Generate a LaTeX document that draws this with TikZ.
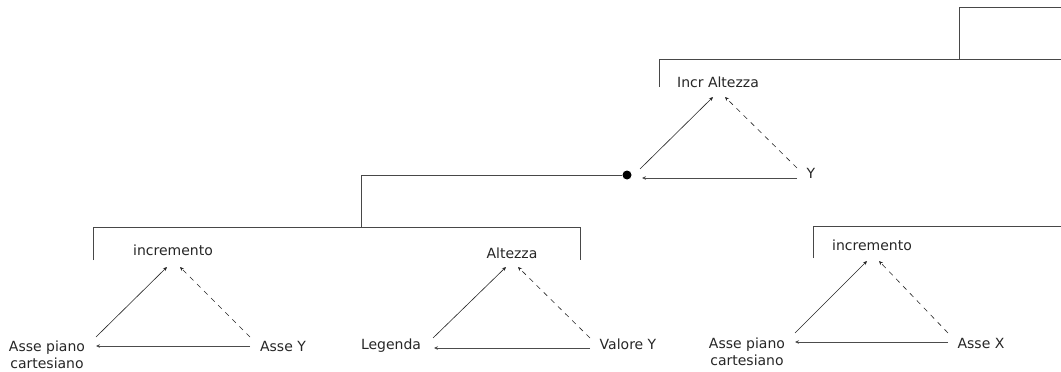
\documentclass[tikz,border=0pt]{standalone}
\usepackage{fontspec}
\setmainfont{DejaVu Sans}
\usetikzlibrary{arrows.meta}
\begin{document}
\begin{tikzpicture}[x=1pt,y=-1pt,
  lbl/.style={anchor=base,inner sep=0pt,text=black!85,align=center,
    font=\fontsize{14}{17}\selectfont},
  frame/.style={draw=black!72,line width=0.9pt},
  rel/.style={draw=black!85,line width=0.6pt,-{Stealth[length=4pt,width=3.6pt]}},
  relh/.style={draw=black!70,line width=0.9pt,-{Stealth[length=4pt,width=3.6pt]}},
  reld/.style={rel,dash pattern=on 5pt off 5pt},
  joint/.style={circle,fill=black,inner sep=0pt,minimum size=9pt}]
\useasboundingbox (0,0) rectangle (1061,372);

% ---- upper level ----
\draw[frame] (959,7) -- (1061,7);
\draw[frame] (959,7) -- (959,59);
\draw[frame] (659,87) -- (659,59) -- (1061,59);

\node[lbl] (incrAlt) at (718,87) {Incr Altezza};
\node[lbl] (y) at (811,178) {Y};
\node[joint] (dot) at (627,175) {};
\coordinate (incrAltA) at (713,97);
\coordinate (incrAltB) at (725,97);
\coordinate (dotA) at (640,169);
\coordinate (dotB) at (642,178);
\coordinate (yA) at (797,168);
\coordinate (yB) at (797,178);
\draw[rel]  (dotA) -- (incrAltA);
\draw[reld] (yA) -- (incrAltB);
\draw[relh] (yB) -- (dotB);

% branch from the joint down to the lower group
\coordinate (branch) at (361,227);
\draw[frame] (dot) -- (361,175) -- (branch);
\draw[frame] (93,260) -- (93,227) -- (580,227) -- (580,260);

% ---- lower left: incremento ----
% (the base anchor of a two-line label sits on its last line)
\node[lbl] (incL) at (173,255) {incremento};
\node[lbl] (apcL) at (47,368) {Asse piano\\cartesiano};
\node[lbl] (asseY) at (283,351) {Asse Y};
\coordinate (incLA) at (167,267);
\coordinate (incLB) at (180,267);
\coordinate (apcLA) at (96,337);
\coordinate (apcLB) at (96,346);
\coordinate (asseYA) at (250,337);
\coordinate (asseYB) at (250,346);
\draw[rel]  (apcLA) -- (incLA);
\draw[reld] (asseYA) -- (incLB);
\draw[relh] (asseYB) -- (apcLB);

% ---- lower middle: Altezza ----
\node[lbl] (alt) at (512,258) {Altezza};
\node[lbl] (leg) at (391,349) {Legenda};
\node[lbl] (valY) at (628,349) {Valore Y};
\coordinate (altA) at (506,267);
\coordinate (altB) at (518,267);
\coordinate (legA) at (433,338);
\coordinate (legB) at (434,348);
\coordinate (valYA) at (590,338);
\coordinate (valYB) at (590,348);
\draw[rel]  (legA) -- (altA);
\draw[reld] (valYA) -- (altB);
\draw[relh] (valYB) -- (legB);

% ---- lower right: incremento ----
\draw[frame] (813,258) -- (813,226) -- (1061,226);
\node[lbl] (incR) at (872,250) {incremento};
\node[lbl] (apcR) at (747,365) {Asse piano\\cartesiano};
\node[lbl] (asseX) at (981,348) {Asse X};
\coordinate (incRA) at (867,261);
\coordinate (incRB) at (879,261);
\coordinate (apcRA) at (795,333);
\coordinate (apcRB) at (795,342);
\coordinate (asseXA) at (948,333);
\coordinate (asseXB) at (948,342);
\draw[rel]  (apcRA) -- (incRA);
\draw[reld] (asseXA) -- (incRB);
\draw[relh] (asseXB) -- (apcRB);
\end{tikzpicture}
\end{document}
